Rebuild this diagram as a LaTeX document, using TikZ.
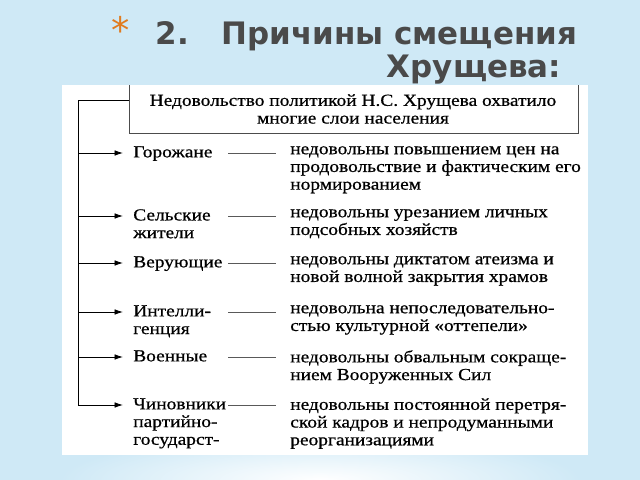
\documentclass[tikz,border=0pt]{standalone}
\usepackage{fontspec}
\setmainfont{Liberation Serif}
\newfontfamily\titlefont{DejaVu Sans}
\newfontfamily\bodyfont[FakeStretch=1.15,FakeBold=0.6]{Liberation Serif}
\usetikzlibrary{arrows.meta}
\definecolor{slideblue}{HTML}{CFE9F6}
\definecolor{titlegray}{HTML}{4A4A4A}
\definecolor{staror}{HTML}{E07B1F}
\begin{document}
\begin{tikzpicture}[x=0.025cm,y=-0.025cm,
  cat/.style={anchor=north west,align=left,font=\bodyfont\fontsize{12}{12.6}\selectfont,inner sep=0pt},
  desc/.style={anchor=north west,align=left,font=\bodyfont\fontsize{12}{12.6}\selectfont,inner sep=0pt},
  feed/.style={-{Latex[length=6pt,width=4pt]},line width=0.6pt},
  joinline/.style={line width=0.5pt,gray!70!black}]
\useasboundingbox (0,0) rectangle (640,480);
\fill[slideblue] (0,0) rectangle (640,480);
\shade[inner color=white,outer color=slideblue] (320,480) ellipse (260 and 45);
\fill[white] (62,85) rectangle (588,455);
% title
\node[text=staror,font=\titlefont\fontsize{26}{26}\selectfont] (star) at (121,30) {*};
\node[anchor=east,text=titlegray,font=\titlefont\bfseries\fontsize{22}{24}\selectfont] (t1) at (582,36) {2.\ \ \ Причины смещения};
\node[anchor=east,text=titlegray,font=\titlefont\bfseries\fontsize{22}{24}\selectfont] (t2) at (566,70) {Хрущева:};
% top box
\draw[line width=0.7pt,gray!60!black] (129,85) -- (129,133) -- (578,133) -- (578,85);
\node[align=center,font=\bodyfont\fontsize{12}{12.6}\selectfont] (top) at (353,109) {Недовольство политикой Н.С. Хрущева охватило\\многие слои населения};
\coordinate (tl) at (129,100);
\coordinate (corner) at (78,100);
\coordinate (bottom) at (78,405);
\draw[line width=0.6pt] (tl) -- (corner) -- (bottom);
% rows
\foreach \y/\c/\d [count=\i] in {
  146/Горожане/{недовольны повышением цен на\\продовольствие и фактическим его\\нормированием},
  209/{Сельские\\жители}/{недовольны урезанием личных\\подсобных хозяйств},
  256/Верующие/{недовольны диктатом атеизма и\\новой волной закрытия храмов},
  305/{Интелли-\\генция}/{недовольна непоследовательно-\\стью культурной «оттепели»},
  350/Военные/{недовольны обвальным сокраще-\\нием Вооруженных Сил},
  398/{Чиновники\\партийно-\\государст-}/{недовольны постоянной перетря-\\ской кадров и непродуманными\\реорганизациями}}
{
  \node[cat] (c\i) at (133,\y) {\c};
  \node[desc] (d\i) at (290,\y) {\d};
  \coordinate (s\i) at (78,\y+7);
  \coordinate (e\i) at (123,\y+7);
  \draw[feed] (s\i) -- (e\i);
  \draw[joinline] (228,\y+7) -- (276,\y+7);
}
\end{tikzpicture}
\end{document}
